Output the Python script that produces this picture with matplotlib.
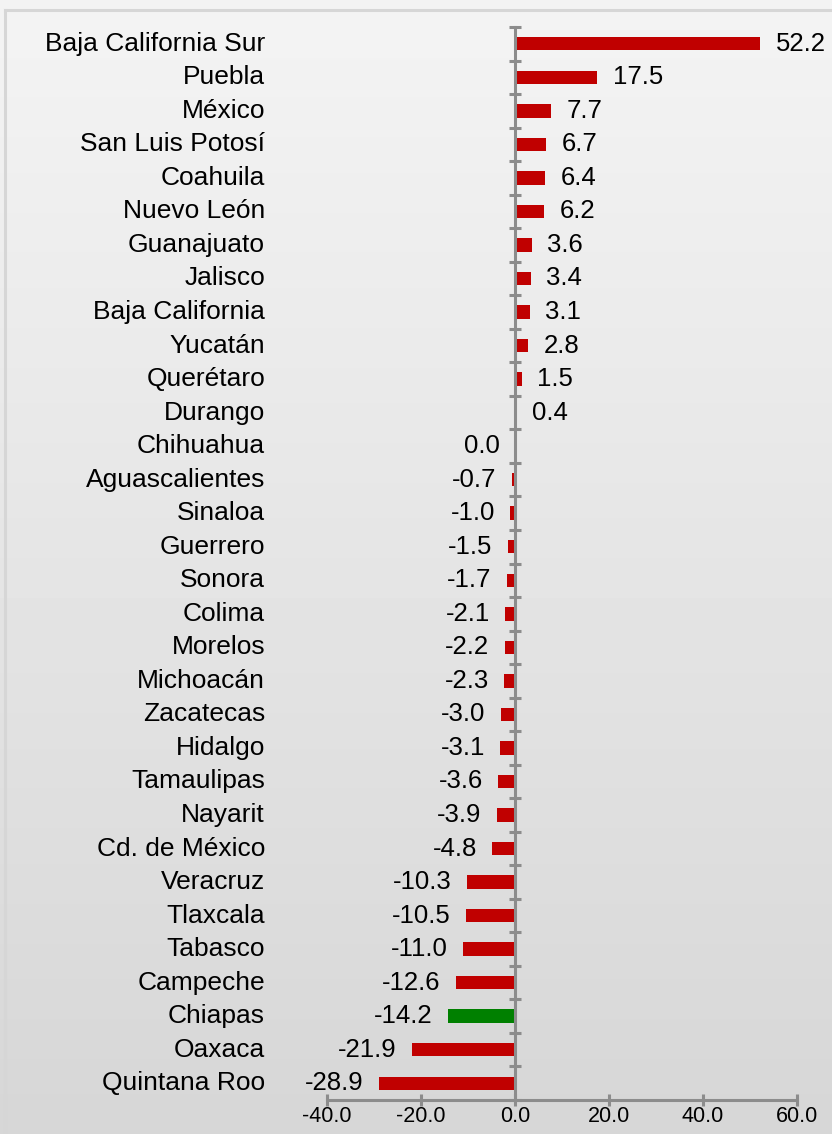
import numpy as np
import matplotlib
matplotlib.use("Agg")
import matplotlib.pyplot as plt
import matplotlib.transforms as mtransforms
from matplotlib.lines import Line2D

plt.rcParams['font.family'] = ['Liberation Sans', 'DejaVu Sans']

# data, top to bottom as in the chart
states = ["Baja California Sur", "Puebla", "México", "San Luis Potosí", "Coahuila",
          "Nuevo León", "Guanajuato", "Jalisco", "Baja California", "Yucatán",
          "Querétaro", "Durango", "Chihuahua", "Aguascalientes", "Sinaloa",
          "Guerrero", "Sonora", "Colima", "Morelos", "Michoacán", "Zacatecas",
          "Hidalgo", "Tamaulipas", "Nayarit", "Cd. de México", "Veracruz",
          "Tlaxcala", "Tabasco", "Campeche", "Chiapas", "Oaxaca", "Quintana Roo"]
values = [52.2, 17.5, 7.7, 6.7, 6.4, 6.2, 3.6, 3.4, 3.1, 2.8, 1.5, 0.4, 0.0,
          -0.7, -1.0, -1.5, -1.7, -2.1, -2.2, -2.3, -3.0, -3.1, -3.6, -3.9,
          -4.8, -10.3, -10.5, -11.0, -12.6, -14.2, -21.9, -28.9]
highlight = "Chiapas"
xticks = [-40, -20, 0, 20, 40, 60]

red = "#C00000"
green = "#008000"
axis_gray = "#8c8c8c"

fig = plt.figure(figsize=(8.32, 11.34), dpi=100)

# background gradient
bg = fig.add_axes([0, 0, 1, 1], zorder=-10)
grad = np.linspace(0.955, 0.84, 256).reshape(-1, 1)
bg.imshow(grad, aspect='auto', cmap='gray', vmin=0, vmax=1, extent=[0, 1, 0, 1])
bg.set_axis_off()

# light frame at top and left
fig.add_artist(Line2D([5 / 832, 1], [1 - 10 / 1134, 1 - 10 / 1134],
                      transform=fig.transFigure, color="#d6d6d6", lw=2.2))
fig.add_artist(Line2D([5 / 832, 5 / 832], [0, 1 - 10 / 1134],
                      transform=fig.transFigure, color="#d6d6d6", lw=2.2))

ax = fig.add_axes([327 / 832, 34 / 1134, 470 / 832, (1100 - 27) / 1134])
ax.patch.set_alpha(0)

n = len(states)
ypos = np.arange(n)
colors = [green if s == highlight else red for s in states]
ax.barh(ypos, values, height=0.4, color=colors, zorder=2)

ax.set_xlim(-40, 60)
ax.set_ylim(n - 0.5, -0.5)

for side in ['top', 'right']:
    ax.spines[side].set_visible(False)
ax.spines['left'].set_position(('data', 0))
for side in ['left', 'bottom']:
    ax.spines[side].set_color(axis_gray)
    ax.spines[side].set_linewidth(2.2)
    ax.spines[side].set_zorder(3)

ax.set_xticks(xticks)
ax.set_xticklabels([f"{t:.1f}" for t in xticks], fontsize=15.5)
ax.tick_params(axis='x', direction='inout', length=8, width=2.2, color=axis_gray, pad=0.5)

ax.set_yticks(np.arange(n + 1) - 0.5)
ax.set_yticklabels([])
ax.tick_params(axis='y', direction='inout', length=8, width=2.2, color=axis_gray)

# category labels, right aligned left of the plot
lab_tr = mtransforms.blended_transform_factory(fig.transFigure, ax.transData)
for y, s in zip(ypos, states):
    fig.text(265 / 832, y, s, transform=lab_tr, ha='right', va='center', fontsize=19)

# value labels
for y, v in zip(ypos, values):
    if v > 0:
        ax.annotate(f"{v:.1f}", (v, y), xytext=(11, 0), textcoords='offset points',
                    ha='left', va='center', fontsize=18.5)
    else:
        ax.annotate(f"{v:.1f}", (v, y), xytext=(-11, 0), textcoords='offset points',
                    ha='right', va='center', fontsize=18.5)

fig.savefig("out.png", dpi=100)
